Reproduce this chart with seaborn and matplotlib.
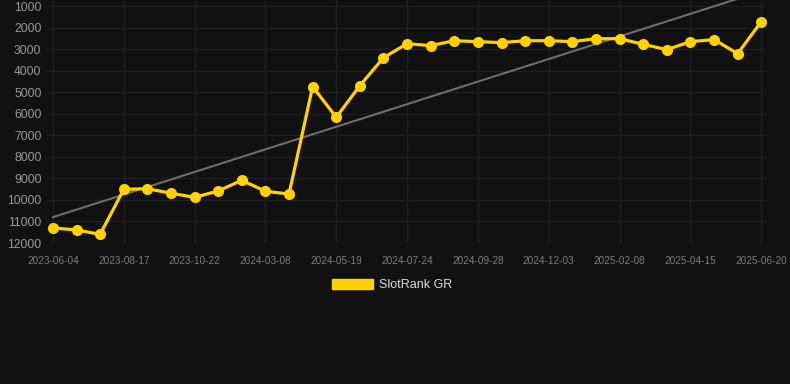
import numpy as np
import pandas as pd
import matplotlib
matplotlib.use("Agg")
import matplotlib.pyplot as plt
from matplotlib.patches import Patch
import seaborn as sns

dates = ["2023-06-04", "", "", "2023-08-17", "", "", "2023-10-22", "", "",
         "2024-03-08", "", "", "2024-05-19", "", "", "2024-07-24", "", "",
         "2024-09-28", "", "", "2024-12-03", "", "", "2025-02-08", "", "",
         "2025-04-15", "", "", "2025-06-20"]
rank = [11300, 11395, 11600, 9510, 9480, 9690, 9880, 9585, 9090, 9600, 9725,
        4740, 6165, 4695, 3400, 2748, 2840, 2610, 2655, 2700, 2610, 2610,
        2655, 2515, 2515, 2780, 3025, 2655, 2560, 3210, 1725]
y_ticks = [1000, 2000, 3000, 4000, 5000, 6000, 7000, 8000, 9000, 10000, 11000, 12000]
series_name = "SlotRank GR"

BG = "#111111"
GOLD = "#FFD200"
GRID = "#1f1f1f"

sns.set_theme(style="dark")
plt.rcParams["font.family"] = ["Liberation Sans", "DejaVu Sans"]

df = pd.DataFrame({"idx": np.arange(len(rank)), "rank": rank})

fig = plt.figure(figsize=(7.9, 3.84), dpi=100, facecolor=BG)
ax = fig.add_axes([47 / 790, 1 - 243 / 384, (766 - 47) / 790, 243 / 384])
ax.set_facecolor(BG)

# trend line (linear regression of the series)
coef = np.polyfit(df["idx"], df["rank"], 1)
trend_x = np.array([df["idx"].min(), df["idx"].max()])
ax.plot(trend_x, np.polyval(coef, trend_x), color="#6e6e6e", lw=1.5, zorder=2)

sns.lineplot(data=df, x="idx", y="rank", ax=ax, color=GOLD, lw=2.3,
             marker="o", markersize=8, markeredgewidth=0, zorder=3)

ax.set_xlim(-0.25, 30.2)
ax.set_ylim(12000, 721)
ax.set_yticks(y_ticks)
ax.set_yticklabels([str(v) for v in y_ticks])
tick_pos = [i for i, d in enumerate(dates) if d]
ax.set_xticks(tick_pos)
ax.set_xticklabels([dates[i] for i in tick_pos])

ax.grid(True, color=GRID, lw=1)
for s in ax.spines.values():
    s.set_visible(False)
ax.tick_params(axis="y", colors="#9a9a9a", labelsize=8.8, length=0, pad=4)
ax.tick_params(axis="x", colors="#7d7d7d", labelsize=7.2, length=5,
               color=GRID, pad=4)
ax.set_xlabel("")
ax.set_ylabel("")

handle = Patch(facecolor=GOLD, edgecolor=GOLD)
fig.legend([handle], [series_name], loc="center", bbox_to_anchor=(392 / 790, 1 - 285 / 384),
           frameon=False, fontsize=9, labelcolor="#dddddd",
           handlelength=3.3, handleheight=0.9, handletextpad=0.5)

fig.savefig("out.png", dpi=100, facecolor=BG)
